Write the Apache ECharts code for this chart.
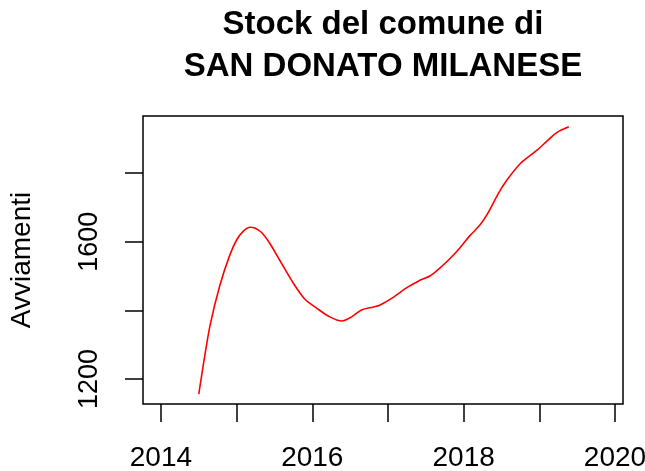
<!DOCTYPE html>
<html>
<head>
<meta charset="utf-8">
<script src="https://cdn.jsdelivr.net/npm/echarts@6/dist/echarts.min.js"></script>
<style>
  html, body { margin: 0; padding: 0; background: #fff; }
  #chart { width: 645px; height: 471px; }
</style>
</head>
<body>
<div id="chart"></div>
<script>
// time (decimal years) and stock values
const years = [
  2014.50, 2014.56, 2014.65, 2014.78, 2014.91, 2015.00, 2015.09, 2015.18, 2015.24,
  2015.33, 2015.44, 2015.57, 2015.75, 2015.90, 2016.06, 2016.23, 2016.39, 2016.52,
  2016.65, 2016.81, 2016.89, 2017.07, 2017.25, 2017.40, 2017.56, 2017.67, 2017.82,
  2017.95, 2018.08, 2018.22, 2018.33, 2018.46, 2018.57, 2018.75, 2018.97, 2019.10,
  2019.23, 2019.39
];
const stock = [
  1156, 1241, 1357, 1474, 1561, 1605, 1631, 1642, 1640,
  1627, 1595, 1546, 1479, 1433, 1406, 1381, 1369, 1381,
  1401, 1410, 1415, 1438, 1466, 1485, 1501, 1520, 1551,
  1582, 1617, 1650, 1687, 1741, 1779, 1828, 1867, 1893,
  1918, 1935
];
const xTicks = [2014, 2015, 2016, 2017, 2018, 2019, 2020];
const xLabels = [2014, 2016, 2018, 2020];
const yTicks = [1200, 1400, 1600, 1800];
const yLabels = [1200, 1600];

const chart = echarts.init(document.getElementById('chart'));

const font = 'Liberation Sans, Arial, Helvetica, sans-serif';

const option = {
  animation: false,
  backgroundColor: '#fff',
  grid: {
    left: 143, right: 22, top: 116, bottom: 67,
    outerBoundsMode: 'none',
    containLabel: false,
    show: true, borderColor: '#000', borderWidth: 1.5
  },
  graphic: [
    {
      type: 'text', x: 383, y: 25,
      style: {
        text: 'Stock del comune di', fontFamily: font, fontWeight: 'bold',
        fontSize: 33, fill: '#000', textAlign: 'center', textVerticalAlign: 'middle'
      }
    },
    {
      type: 'text', x: 383, y: 67,
      style: {
        text: 'SAN DONATO MILANESE', fontFamily: font, fontWeight: 'bold',
        fontSize: 33, fill: '#000', textAlign: 'center', textVerticalAlign: 'middle'
      }
    }
  ],
  xAxis: {
    type: 'value',
    min: 2013.763, max: 2020.106,
    axisLine: { show: false },
    splitLine: { show: false },
    axisTick: {
      show: true, length: 18, customValues: xTicks,
      lineStyle: { color: '#000', width: 1.5 }
    },
    axisLabel: {
      customValues: xLabels, fontSize: 28, fontFamily: font, color: '#000', margin: 40,
      formatter: v => String(v)
    }
  },
  yAxis: {
    type: 'value',
    min: 1127, max: 1966.5,
    name: 'Avviamenti',
    nameLocation: 'middle',
    nameRotate: 90,
    nameGap: 107,
    nameTextStyle: { fontSize: 28, fontFamily: font, color: '#000' },
    axisLine: { show: false },
    splitLine: { show: false },
    axisTick: {
      show: true, length: 18, customValues: yTicks,
      lineStyle: { color: '#000', width: 1.5 }
    },
    axisLabel: {
      customValues: yLabels, rotate: 90, fontSize: 27, fontFamily: font,
      color: '#000', margin: 40,
      formatter: v => String(v)
    }
  },
  series: [
    {
      type: 'line',
      data: years.map((t, i) => [t, stock[i]]),
      showSymbol: false,
      smooth: 0.3,
      lineStyle: { color: '#ff0000', width: 1.6 }
    }
  ]
};

chart.setOption(option);
</script>
</body>
</html>
